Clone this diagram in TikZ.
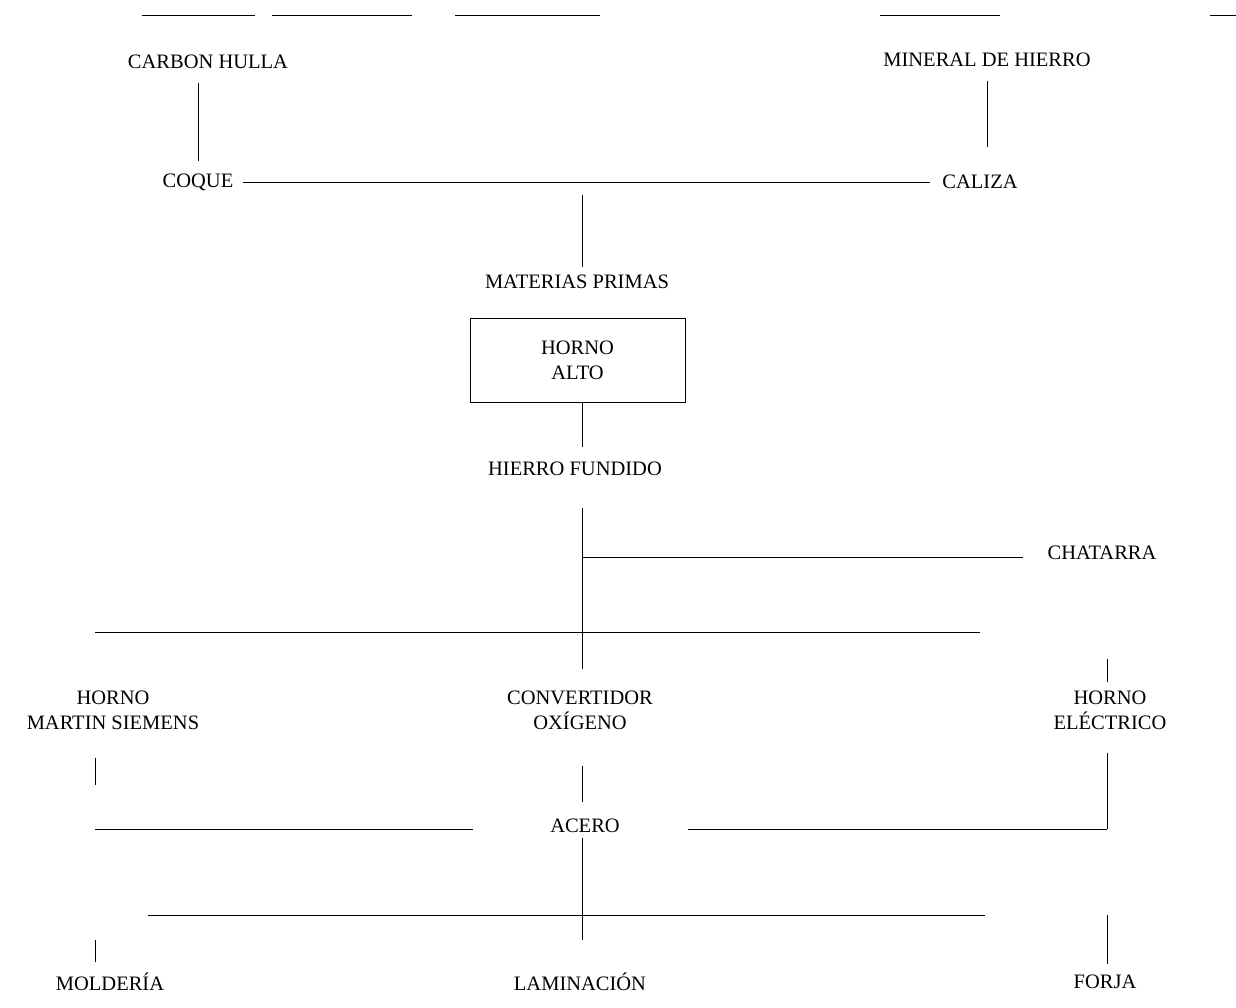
\documentclass[tikz,border=0pt]{standalone}
\usepackage{fontspec}
\setmainfont{Liberation Serif}
\usetikzlibrary{positioning}

\begin{document}
\begin{tikzpicture}[x=1pt,y=-1pt,
    item/.style={font=\fontsize{20.5}{25}\selectfont,align=center,inner sep=2pt},
    link/.style={draw,line width=0.8pt}]
\useasboundingbox (0,0) rectangle (1236,1008);
% strip at the top of the page
\draw[link] (142,15) -- (255,15) (272,15) -- (412,15) (455,15) -- (600,15)
    (880,15) -- (1000,15) (1210,15) -- (1236,15);

\node[item] (CH) at (208,62) {CARBON HULLA};
\node[item] (MH) at (987,60) {MINERAL DE HIERRO};
\node[item] (CQ) at (198,182) {COQUE};
\node[item] (CZ) at (980,182) {CALIZA};
\node[item] (MP) at (577,282) {MATERIAS PRIMAS};
\node[item,draw,line width=0.8pt,minimum width=215pt,minimum height=84pt] (HA) at (577.5,360) {HORNO\\ALTO};
\node[item] (HF) at (575,469) {HIERRO FUNDIDO};
\node[item] (CT) at (1102,553) {CHATARRA};
\node[item] (MS) at (113,710) {HORNO\\MARTIN SIEMENS};
\node[item] (CO) at (580,710) {CONVERTIDOR\\OXÍGENO};
\node[item] (HE) at (1110,710) {HORNO\\ELÉCTRICO};
\node[item] (AC) at (585,826) {ACERO};
\node[item] (MO) at (110,982) {MOLDERÍA};
\node[item] (LA) at (580,982) {LAMINACIÓN};
\node[item] (FO) at (1105,982) {FORJA};

\coordinate (j1) at (582,182);
\coordinate (j2) at (582,557);
\coordinate (s1) at (95,632);
\coordinate (s2) at (980,632);
\coordinate (a1) at (95,829);
\coordinate (a2) at (1107,829);
\coordinate (b1) at (148,915);
\coordinate (b2) at (985,915);

% materias primas
\draw[link,shorten <=12pt,shorten >=10pt] (CH.south -| CQ) -- (CQ.north);
\draw[link,shorten <=12pt,shorten >=26pt] (MH.south) -- (MH.south |- CZ.north);
\draw[link,shorten <=7pt,shorten >=10pt] (CQ.east |- j1) -- (CZ.west |- j1);
\draw[link,shorten <=13pt,shorten >=6pt] (j1) -- (j1 |- MP.north);
% horno alto
\draw[link,shorten >=13pt] (HA.south -| j1) -- (j1 |- HF.north);
\draw[link,shorten <=30pt,shorten >=19pt] (j1 |- HF.south) -- (j1 |- CO.north);
\draw[link,shorten >=22pt] (j2) -- (j2 -| CT.west);
\draw[link] (s1) -- (s2);
\draw[link,shorten <=6pt] (HE.north -| a2) -- ++(0,-29);
% acero
\draw[link,shorten <=26pt,shorten >=44pt] (MS.south -| a1) -- (a1);
\draw[link,shorten <=34pt,shorten >=15pt] (CO.south -| j1) -- (j1 |- AC.north);
\draw[link,shorten <=21pt] (HE.south -| a2) -- (a2);
\draw[link,shorten >=75pt] (a1) -- (a1 -| AC.west);
\draw[link,shorten <=66pt] (a2 -| AC.east) -- (a2);
\draw[link,shorten <=3pt,shorten >=31pt] (AC.south -| j1) -- (j1 |- LA.north);
\draw[link] (b1) -- (b2);
\draw[link,shorten <=25pt,shorten >=9pt] (b1 -| a1) -- (a1 |- MO.north);
\draw[link,shorten >=9pt] (b1 -| a2) -- (a2 |- FO.north);
\end{tikzpicture}
\end{document}
